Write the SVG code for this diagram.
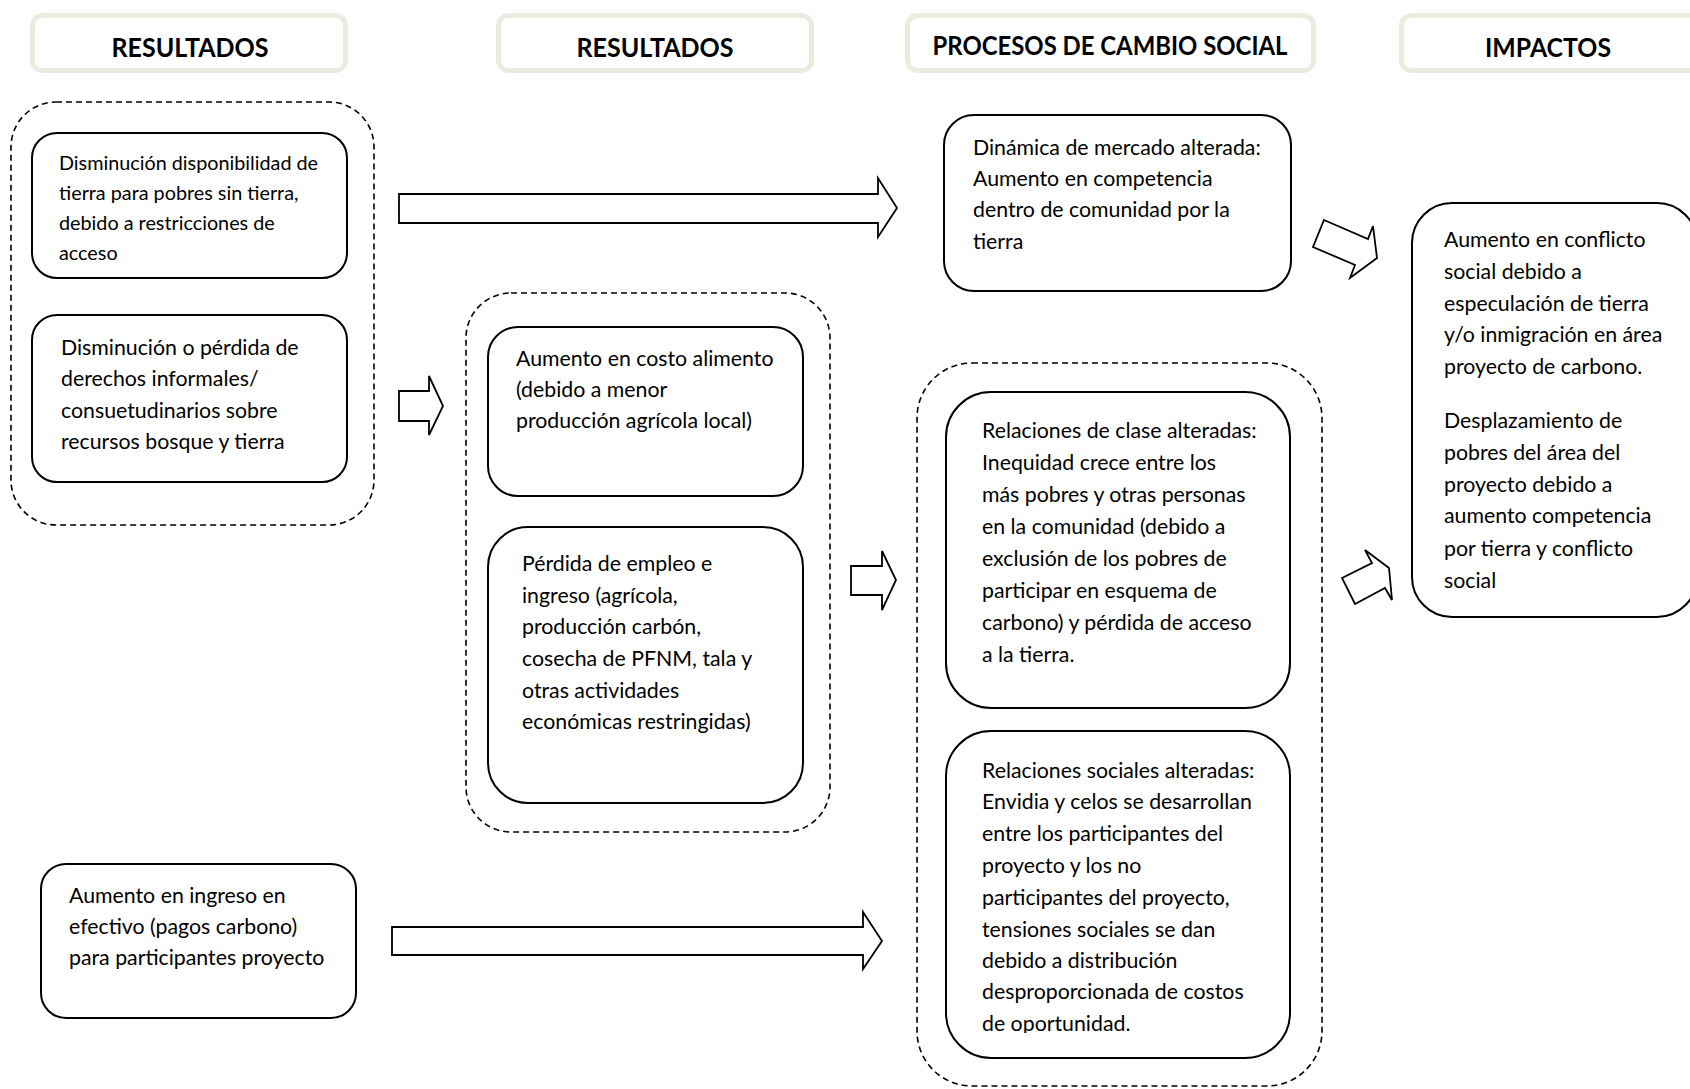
<svg xmlns="http://www.w3.org/2000/svg" width="1690" height="1089" viewBox="0 0 1690 1089">
  <style>
    .hdr rect { fill: #ffffff; stroke: #EDEBE0; stroke-width: 5; }
    .hdr text { font-family: Lato, "Liberation Sans", sans-serif; font-weight: bold; font-size: 27px; fill: #000; text-anchor: middle; }
    .grp { fill: none; stroke: #000; stroke-width: 1.6; stroke-dasharray: 6 4; }
    .node rect { fill: #ffffff; stroke: #000; stroke-width: 2; }
    .node text { font-family: Lato, "Liberation Sans", sans-serif; font-size: 21.3px; fill: #000; }
    .node text.small { font-size: 19.8px; }
    .arrow { fill: #ffffff; stroke: #000; stroke-width: 1.8; stroke-linejoin: miter; }
  </style>
  <defs>
    <clipPath id="clipC2"><rect x="946" y="731" width="344" height="302"/></clipPath>
  </defs>
  <rect width="1690" height="1089" fill="#ffffff"/>

  <!-- column headers -->
  <g id="hdr-resultados-1" class="hdr">
    <rect x="32.5" y="15.5" width="313" height="55" rx="10"/>
    <text x="190" y="57" textLength="157" lengthAdjust="spacingAndGlyphs">RESULTADOS</text>
  </g>
  <g id="hdr-resultados-2" class="hdr">
    <rect x="498.5" y="15.5" width="313" height="55" rx="10"/>
    <text x="655" y="57" textLength="157" lengthAdjust="spacingAndGlyphs">RESULTADOS</text>
  </g>
  <g id="hdr-procesos" class="hdr">
    <rect x="907.5" y="15.5" width="406" height="55" rx="10"/>
    <text x="1110" y="55" textLength="355" lengthAdjust="spacingAndGlyphs">PROCESOS DE CAMBIO SOCIAL</text>
  </g>
  <g id="hdr-impactos" class="hdr">
    <rect x="1401.5" y="15.5" width="320" height="55" rx="10"/>
    <text x="1548" y="57" textLength="126" lengthAdjust="spacingAndGlyphs">IMPACTOS</text>
  </g>

  <!-- dashed groupings -->
  <g id="groups">
    <rect id="grp-a" class="grp" x="11" y="102" width="363" height="423" rx="45"/>
    <rect id="grp-b" class="grp" x="466" y="293" width="364" height="539" rx="45"/>
    <rect id="grp-c" class="grp" x="917" y="363" width="405" height="723" rx="55"/>
  </g>

  <!-- outcome boxes -->
  <g id="node-a1" class="node">
    <rect x="32" y="133" width="315" height="145" rx="25"/>
    <text class="small" x="59" y="170">Disminución disponibilidad de</text>
    <text class="small" x="59" y="200">tierra para pobres sin tierra,</text>
    <text class="small" x="59" y="230">debido a restricciones de</text>
    <text class="small" x="59" y="260">acceso</text>
  </g>
  <g id="node-a2" class="node">
    <rect x="32" y="315" width="315" height="167" rx="25"/>
    <text x="61" y="355">Disminución o pérdida de</text>
    <text x="61" y="386">derechos informales/</text>
    <text x="61" y="418">consuetudinarios sobre</text>
    <text x="61" y="449">recursos bosque y tierra</text>
  </g>
  <g id="node-b1" class="node">
    <rect x="488" y="327" width="315" height="169" rx="30"/>
    <text x="516" y="366">Aumento en costo alimento</text>
    <text x="516" y="397">(debido a menor</text>
    <text x="516" y="428">producción agrícola local)</text>
  </g>
  <g id="node-b2" class="node">
    <rect x="488" y="527" width="315" height="276" rx="40"/>
    <text x="522" y="571">Pérdida de empleo e</text>
    <text x="522" y="603">ingreso (agrícola,</text>
    <text x="522" y="634">producción carbón,</text>
    <text x="522" y="666">cosecha de PFNM, tala y</text>
    <text x="522" y="698">otras actividades</text>
    <text x="522" y="729">económicas restringidas)</text>
  </g>
  <g id="node-d" class="node">
    <rect x="41" y="864" width="315" height="154" rx="25"/>
    <text x="69" y="903">Aumento en ingreso en</text>
    <text x="69" y="934">efectivo (pagos carbono)</text>
    <text x="69" y="965">para participantes proyecto</text>
  </g>

  <!-- social change processes -->
  <g id="node-mercado" class="node">
    <rect x="944" y="115" width="347" height="176" rx="30"/>
    <text x="973" y="155">Dinámica de mercado alterada:</text>
    <text x="973" y="186">Aumento en competencia</text>
    <text x="973" y="217">dentro de comunidad por la</text>
    <text x="973" y="249">tierra</text>
  </g>
  <g id="node-clase" class="node">
    <rect x="946" y="392" width="344" height="316" rx="45"/>
    <text x="982" y="438">Relaciones de clase alteradas:</text>
    <text x="982" y="470">Inequidad crece entre los</text>
    <text x="982" y="502">más pobres y otras personas</text>
    <text x="982" y="534">en la comunidad (debido a</text>
    <text x="982" y="566">exclusión de los pobres de</text>
    <text x="982" y="598">participar en esquema de</text>
    <text x="982" y="630">carbono) y pérdida de acceso</text>
    <text x="982" y="662">a la tierra.</text>
  </g>
  <g id="node-sociales" class="node">
    <rect x="946" y="731" width="344" height="327" rx="45"/>
    <g clip-path="url(#clipC2)">
      <text x="982" y="778">Relaciones sociales alteradas:</text>
      <text x="982" y="809">Envidia y celos se desarrollan</text>
      <text x="982" y="841">entre los participantes del</text>
      <text x="982" y="873">proyecto y los no</text>
      <text x="982" y="905">participantes del proyecto,</text>
      <text x="982" y="937">tensiones sociales se dan</text>
      <text x="982" y="968">debido a distribución</text>
      <text x="982" y="999">desproporcionada de costos</text>
      <text x="982" y="1031">de oportunidad.</text>
    </g>
  </g>

  <!-- impacts -->
  <g id="node-impactos" class="node">
    <rect x="1412" y="203" width="285" height="414" rx="40"/>
    <text x="1444" y="247">Aumento en conflicto</text>
    <text x="1444" y="279">social debido a</text>
    <text x="1444" y="311">especulación de tierra</text>
    <text x="1444" y="342">y/o inmigración en área</text>
    <text x="1444" y="374">proyecto de carbono.</text>
    <text x="1444" y="428">Desplazamiento de</text>
    <text x="1444" y="460">pobres del área del</text>
    <text x="1444" y="492">proyecto debido a</text>
    <text x="1444" y="523">aumento competencia</text>
    <text x="1444" y="556">por tierra y conflicto</text>
    <text x="1444" y="588">social</text>
  </g>

  <!-- block arrows -->
  <g id="connectors">
    <polygon class="arrow" points="399,194 878,194 878,178 897,208 878,237 878,223 399,223"/>
    <polygon class="arrow" points="399,391 429,391 429,376 443,406 429,435 429,421 399,421"/>
    <polygon class="arrow" points="851,566 882,566 882,551 896,580 882,610 882,595 851,595"/>
    <polygon class="arrow" points="392,927 863,927 863,912 882,941 863,969 863,955 392,955"/>
    <polygon class="arrow" points="1324,220 1368,239 1373,226 1377,258 1350,278 1355,265 1313,247"/>
    <polygon class="arrow" points="1342,578 1372,563 1365,550 1389,568 1392,600 1385,588 1355,604"/>
  </g>
</svg>
